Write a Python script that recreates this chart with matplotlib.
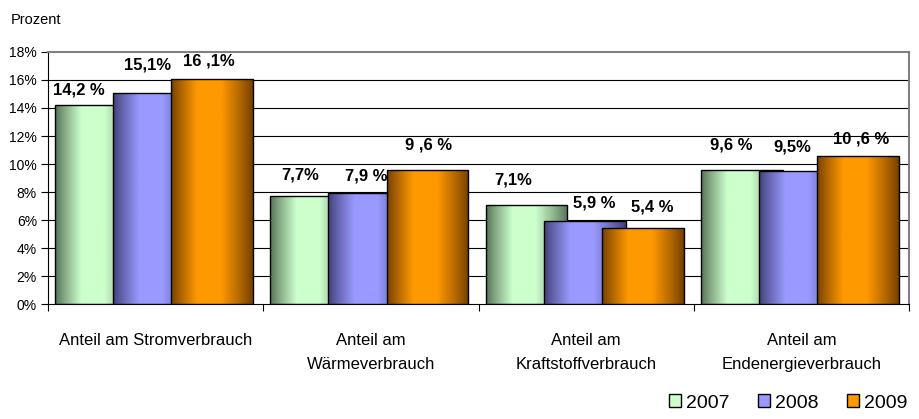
import numpy as np
import matplotlib
matplotlib.use("Agg")
import matplotlib.pyplot as plt
from matplotlib.patches import Patch
from matplotlib.colors import to_rgb

plt.rcParams['font.family'] = ['Liberation Sans', 'DejaVu Sans']

categories = ["Anteil am Stromverbrauch", "Anteil am\nWärmeverbrauch",
              "Anteil am\nKraftstoffverbrauch", "Anteil am\nEndenergieverbrauch"]
years = ["2007", "2008", "2009"]
v2007 = [14.2, 7.7, 7.1, 9.6]
v2008 = [15.1, 7.9, 5.9, 9.5]
v2009 = [16.1, 9.6, 5.4, 10.6]
series = [v2007, v2008, v2009]
label_texts = [["14,2 %", "7,7%", "7,1%", "9,6 %"],
               ["15,1%", "7,9 %", "5,9 %", "9,5%"],
               ["16 ,1%", "9 ,6 %", "5,4 %", "10 ,6 %"]]
yticks = [0, 2, 4, 6, 8, 10, 12, 14, 16, 18]

# style
light = ["#CCFFCC", "#9999FF", "#FF9900"]
dark = ["#557055", "#404078", "#743F00"]
bar_w = 0.38
step = 0.27
first_off = 0.033
# per-label nudges (pixels), style only
nudge = [[(-5, 8), (1, 14), (-1, 17), (1, 17)],
         [(5, 20), (9, 10), (21, 11), (4, 16)],
         [(-3, 10), (1, 17), (10, 14), (3, 9)]]

W, H = 919, 419
fig = plt.figure(figsize=(W / 100, H / 100), dpi=100)
ax = fig.add_axes([48 / W, (H - 304) / H, 861 / W, 252 / H])
ax.set_xlim(0, len(categories))
ax.set_ylim(0, 18)

for yv in yticks[1:-1]:
    ax.axhline(yv, color="black", lw=0.8, zorder=0.5)


def grad_img(c_light, c_dark, n=200):
    t = np.linspace(0, 1, n)
    peak = 0.45
    f = np.where(t < peak, t / peak, (1 - t) / (1 - peak))
    f = np.clip(f * 1.4, 0, 1) ** 0.9
    l = np.array(to_rgb(c_light))
    d = np.array(to_rgb(c_dark))
    cols = d[None, :] + (l - d)[None, :] * f[:, None]
    return cols[None, :, :]


for si, vals in enumerate(series):
    for ci, v in enumerate(vals):
        x0 = ci + first_off + si * step
        z = 2 + si
        bars = ax.bar(x0, v, width=bar_w, align="edge", facecolor="none",
                      edgecolor="black", lw=1.0, zorder=z + 0.5)
        p = bars[0]
        im = ax.imshow(grad_img(light[si], dark[si]), extent=[x0, x0 + bar_w, 0, v],
                       aspect="auto", zorder=z, interpolation="bilinear")
        im.set_clip_path(p)
        vis_r = x0 + (step if si < 2 else bar_w)
        xc = (x0 + vis_r) / 2
        dx, dy = nudge[si][ci]
        ax.annotate(label_texts[si][ci], (xc, v), xytext=(dx, dy),
                    textcoords="offset pixels", ha="center", va="bottom",
                    fontsize=12, fontweight="bold", zorder=10)

ax.set_yticks(yticks)
ax.set_yticklabels([f"{t}%" for t in yticks], fontsize=10)
ax.set_xticks(range(len(categories) + 1))
ax.set_xticklabels([])
ax.set_xticks([i + 0.5 for i in range(len(categories))], minor=True)
ax.set_xticklabels(categories, minor=True, fontsize=12, va="top")
for t in ax.get_xticklabels(minor=True):
    t.set_linespacing(1.75)
ax.tick_params(axis="x", which="minor", length=0, pad=21)
ax.tick_params(axis="x", which="major", length=5, direction="out", color="black")
ax.tick_params(axis="y", length=5, direction="out", pad=3)

for s in ["top", "right"]:
    ax.spines[s].set_color("#808080")
    ax.spines[s].set_linewidth(1.5)
ax.spines["left"].set_color("black")
ax.spines["bottom"].set_color("black")

fig.text(11 / W, 1 - 20 / H, "Prozent", fontsize=10.5, va="center", ha="left")

handles = [Patch(facecolor=light[i], edgecolor="black", lw=1.0) for i in range(3)]
fig.legend(handles, years, loc="lower right", bbox_to_anchor=(1.0, -0.01), ncol=3,
           frameon=False, fontsize=14, handlelength=0.6, handleheight=0.6,
           handletextpad=0.25, columnspacing=1.5, borderaxespad=0.2)

fig.savefig("out.png", dpi=100)
